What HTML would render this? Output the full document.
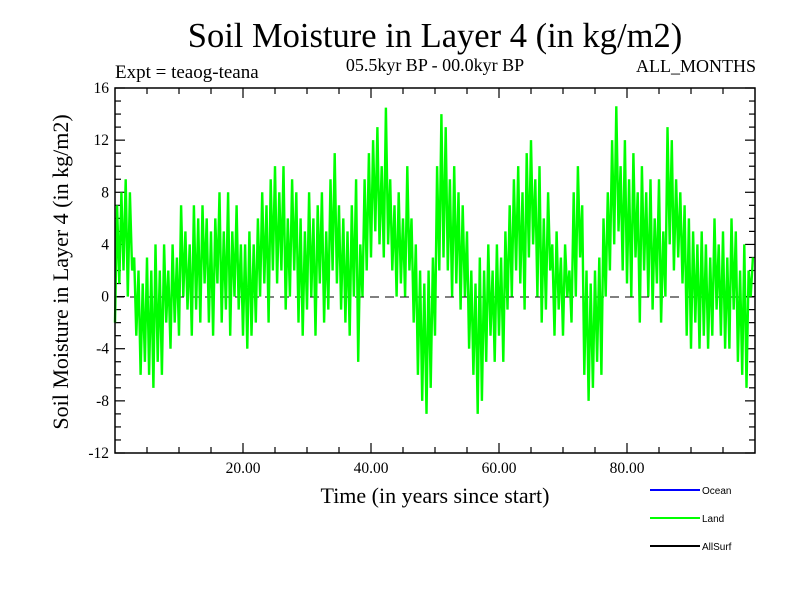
<!DOCTYPE html>
<html><head><meta charset="utf-8"><style>
body{margin:0;background:#fff;}
svg{display:block;font-family:"Liberation Serif",serif;}
</style></head><body>
<svg id="chart" width="800" height="600">
<rect width="800" height="600" fill="#fff"/>
<text x="435" y="47" font-size="34.5" text-anchor="middle">Soil Moisture in Layer 4 (in kg/m2)</text>
<text x="115" y="78" font-size="19">Expt = teaog-teana</text>
<text x="435" y="71" font-size="18" text-anchor="middle">05.5kyr BP - 00.0kyr BP</text>
<text x="756" y="72" font-size="18" text-anchor="end">ALL_MONTHS</text>
<text transform="translate(68,272) rotate(-90)" font-size="22" text-anchor="middle">Soil Moisture in Layer 4 (in kg/m2)</text>
<text x="435" y="503" font-size="22" text-anchor="middle">Time (in years since start)</text>
<g id="ticks"></g>
<line x1="115" y1="297" x2="755" y2="297" stroke="#000" stroke-width="1" stroke-dasharray="9,6"/>
<polyline id="series" fill="none" stroke="#00ff00" stroke-width="2.4"/>
<rect x="115" y="88" width="640" height="365" fill="none" stroke="#000" stroke-width="1.5"/>
<g font-family="Liberation Sans, sans-serif" font-size="10">
<line x1="650" y1="490" x2="700" y2="490" stroke="#0000ff" stroke-width="2"/>
<text x="702" y="494">Ocean</text>
<line x1="650" y1="518" x2="700" y2="518" stroke="#00ff00" stroke-width="2"/>
<text x="702" y="522">Land</text>
<line x1="650" y1="546" x2="700" y2="546" stroke="#000" stroke-width="2"/>
<text x="702" y="550">AllSurf</text>
</g>
</svg>
<script>
const yTickValues=[-12,-8,-4,0,4,8,12,16];
const xTickValues=[20,40,60,80];
const xTickLabels=["20.00","40.00","60.00","80.00"];
const samplesPerYear=3;
const landValues=[
-2,7,1, 8,2,9, 0,8,2, 3,-3,2, -6,1,-5, 3,-6,2, -7,4,-5, 2,-6,4, -2,2,-4, 4,-2,3,
-3,7,0, 5,-1,4, -3,7,-1, 6,-2,7, 1,6,-2, 5,-3,6, 1,8,-2, 5,-1,8, -3,5,0, 7,-1,4,
-3,4,-4, 5,-3,4, -2,6,0, 8,1,7, -2,9,2, 10,1,8, 2,10,-1, 6,0,9, 2,8,-2, 6,-3,5,
-1,8,0, 6,-3,7, 1,8,-2, 5,-1,9, 2,11,1, 7,-1,6, -2,5,-3, 7,0,9, -5,4,0, 9,2,11,
3,12,5, 13,4,10, 3,14.5,4, 9,2,7, 0,8,1, 6,0,10, 2,6,-2, 4,-6,2, -8,1,-9, 2,-7,3,
-3,10,2, 14,3,13, 2,9,0, 10,1,8, -1,7,0, 5,-4,2, -6,1,-9, 3,-8,2, -5,4,-3, 2,-5,4,
-3,3,-5, 5,-1,7, 0,9,2, 10,1,8, -1,11,3, 12,4,9, 0,10,-2, 6,-1,8, 2,4,-3, 5,-1,3,
-3,4,0, 2,-2,8, 0,10,3, 7,-6,2, -8,1,-7, 2,-5,3, -6,6,0, 8,2,12, 4,14.6,5, 10,2,12,
1,9,0, 11,3,8, -2,10,2, 8,0,9, -1,6,1, 9,-2,5, 0,13,4, 12,2,9, 3,8,1, 7,-3,6,
-4,5,-2, 4,-4,5, -3,4,-4, 3,-3,6, -1,4,-3, 5,-4,3, -4,6,-1, 5,-5,2, -6,4,-7, 2,0,3
];
const X0=115,X1=755,Y0=453,Y1=88,XMIN=0,XMAX=100,YMIN=-12,YMAX=16;
const sx=v=>X0+(v-XMIN)/(XMAX-XMIN)*(X1-X0);
const sy=v=>Y0-(v-YMIN)/(YMAX-YMIN)*(Y0-Y1);
const NS="http://www.w3.org/2000/svg";
const g=document.getElementById('ticks');
function ln(x1,y1,x2,y2,name){const l=document.createElementNS(NS,'line');l.setAttribute('x1',x1);l.setAttribute('y1',y1);l.setAttribute('x2',x2);l.setAttribute('y2',y2);l.setAttribute('stroke','#000');l.setAttribute('stroke-width','1.2');


g.appendChild(l);}
function tx(x,y,s,anchor,name){const t=document.createElementNS(NS,'text');t.setAttribute('x',x);t.setAttribute('y',y);t.setAttribute('font-size','15.5');t.setAttribute('text-anchor',anchor);t.textContent=s;


g.appendChild(t);}
for(let v=YMIN;v<=YMAX;v++){const major=(v%4===0);const L=major?10:6;const y=sy(v);ln(X0,y,X0+L,y,'y-tick');ln(X1,y,X1-L,y,'y-tick-right');}
yTickValues.forEach(v=>tx(X0-6,sy(v)+5,String(v),'end','y-tick-label'));
for(let v=5;v<XMAX;v+=5){const major=(v%20===0);const L=major?10:6;const x=sx(v);ln(x,Y0,x,Y0-L,'x-tick');ln(x,Y1,x,Y1+L,'x-tick-top');}
xTickValues.forEach((v,i)=>tx(sx(v),Y0+20,xTickLabels[i],'middle','x-tick-label'));
const pts=landValues.map((v,i)=>sx(i/samplesPerYear).toFixed(1)+','+sy(v).toFixed(1)).join(' ');
document.getElementById('series').setAttribute('points',pts);
</script>
</body></html>
